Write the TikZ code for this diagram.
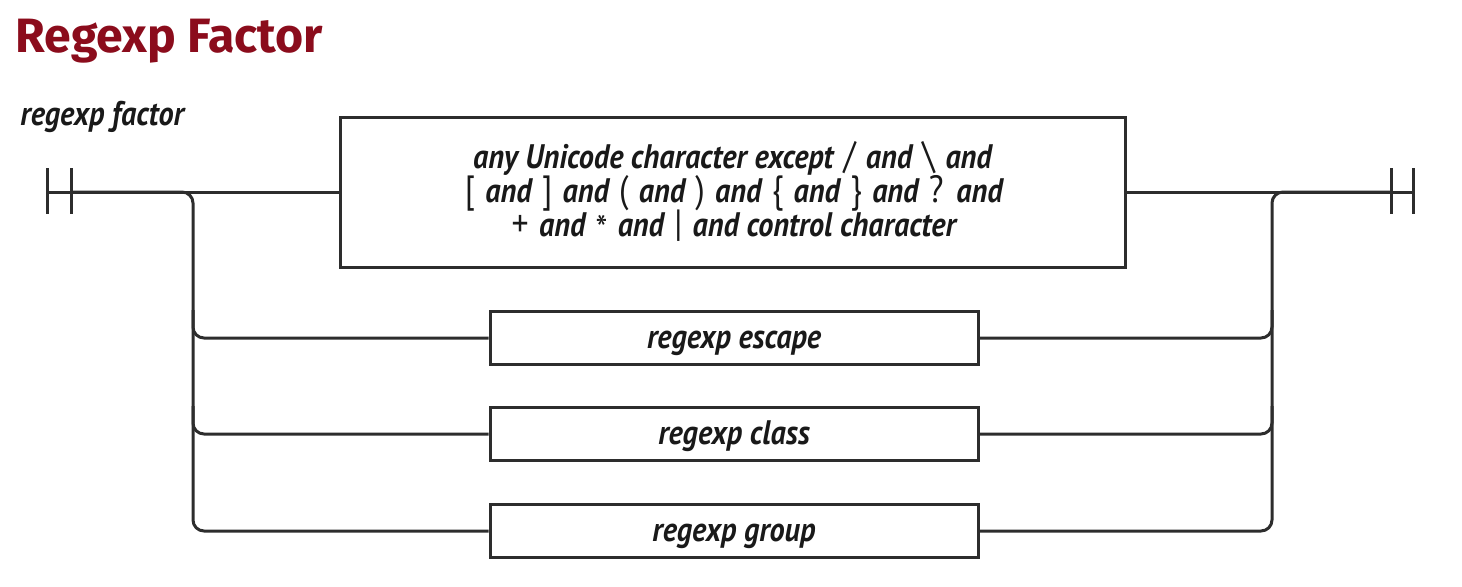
\documentclass[tikz,border=0pt]{standalone}
\usepackage{fontspec}
\setmainfont{PT Sans}
\newfontfamily\condfont[FakeStretch=0.89]{PT Sans}
\newfontfamily\titlefont{Fira Sans}
\definecolor{titlered}{RGB}{139,12,28}
\definecolor{ink}{RGB}{45,45,45}
\newcommand{\boxfnt}{\condfont\bfseries\itshape\fontsize{17}{17}\selectfont\lineskiplimit=-20pt\relax}
\newcommand{\sy}[1]{{\upshape\mdseries\fontsize{19}{17}\selectfont\kern1.3pt#1\kern1.3pt}}
\begin{document}
\begin{tikzpicture}[x=0.5pt,y=-0.5pt,
  line/.style={draw=ink, line width=1.5pt},
  round/.style={line, rounded corners=5.5pt},
  boxfont/.style={font=\boxfnt},
  bigbox/.style={line, rectangle, inner sep=0pt, minimum width=392.5pt, minimum height=75pt, align=center, boxfont, text=black!90},
  smallbox/.style={line, rectangle, inner sep=0pt, minimum width=244pt, minimum height=26.5pt, text height=12.5pt, text depth=2.5pt, boxfont, text=black!90}]
\useasboundingbox (0,0) rectangle (1462,586);

\node[anchor=base west, text=titlered, font=\titlefont\bfseries\fontsize{24.1}{26}\selectfont, inner sep=0pt] (title) at (15,52) {Regexp Factor};
\node[anchor=base west, text=black!90, boxfont, inner sep=0pt] (lbl) at (20,125) {regexp factor};

\node[bigbox] (any) at (732.5,192) {any Unicode character except \sy{/} and \sy{\textbackslash} and\\
\sy{[} and \sy{]} and \sy{(} and \sy{)} and \sy{\{} and \sy{\}} and \sy{?} and\\
\sy{+} and \sy{\raisebox{-0.3ex}{*}} and \sy{|} and control character};
\node[smallbox] (esc) at (734,338) {regexp escape};
\node[smallbox] (cls) at (734,434) {regexp class};
\node[smallbox] (grp) at (734,531) {regexp group};

\coordinate (L1) at (47,192);
\coordinate (L2) at (71,192);
\coordinate (R1) at (1391,192);
\coordinate (R2) at (1413,192);
\coordinate (lfork) at (193,192);
\coordinate (rfork) at (1272,192);

% terminal bars
\draw[line] (L1) ++(0,-24) -- ++(0,46);
\draw[line] (L2) ++(0,-24) -- ++(0,46);
\draw[line] (R1) ++(0,-24) -- ++(0,46);
\draw[line] (R2) ++(0,-24) -- ++(0,46);

% main line
\draw[line] (L1) -- (any.west);
\draw[line] (any.east) -- (R2);

% left fork
\draw[round] (L2) -- (lfork) |- (grp.west);
\draw[round] (lfork |- esc.north) |- (esc.west);
\draw[round] (lfork |- cls.north) |- (cls.west);

% right join
\draw[round] (grp.east) -| (rfork) -- (R1);
\draw[round] (esc.east) -| (rfork |- esc.north);
\draw[round] (cls.east) -| (rfork |- cls.north);
\end{tikzpicture}
\end{document}
